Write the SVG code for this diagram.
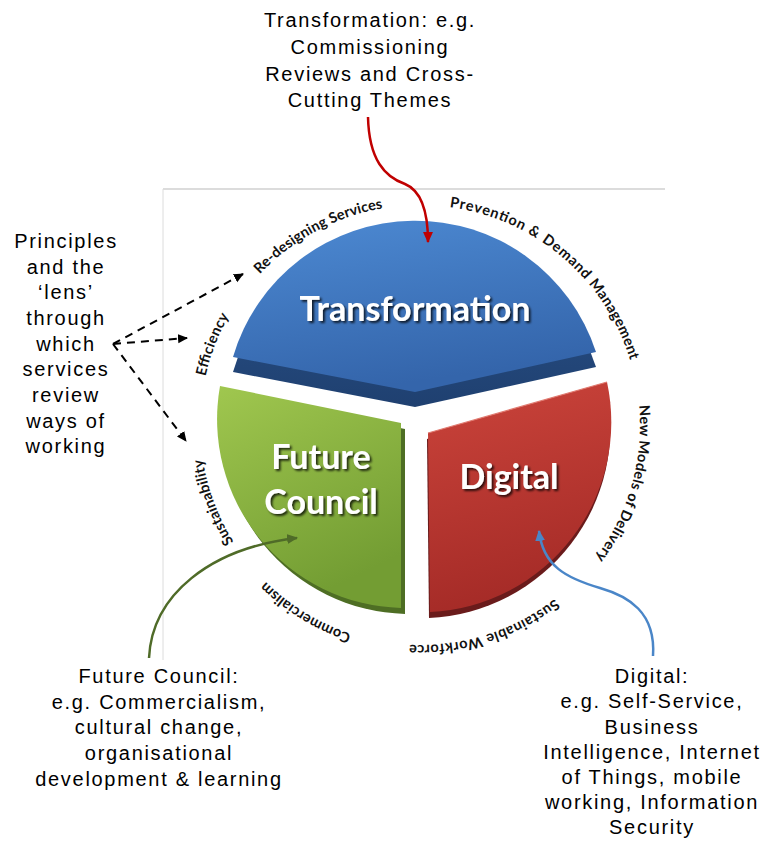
<svg xmlns="http://www.w3.org/2000/svg" width="765" height="843" viewBox="0 0 765 843">
<defs>
<style>
.lbl{font-family:"Liberation Sans",Arial,sans-serif;font-size:20px;letter-spacing:1.7px;fill:#000;text-anchor:middle}
.ring{font-family:Lato,"Open Sans",sans-serif;font-weight:bold;font-size:14.5px;fill:#111}
.seg{font-family:Lato,"Open Sans",sans-serif;font-weight:bold;font-size:34px;fill:#fff;text-anchor:middle;filter:url(#tshadow)}
.dash{fill:none;stroke:#000;stroke-width:2;stroke-dasharray:8 6;marker-end:url(#ahBlack)}
.curve{fill:none;stroke-width:2.5}
.frame{stroke:#dcdcdc;fill:none}
</style>
<linearGradient id="gBlue" x1="0" y1="0" x2="0.3" y2="1">
<stop offset="0" stop-color="#4d8ad3"/>
<stop offset="1" stop-color="#3465ab"/>
</linearGradient>
<linearGradient id="gBlueSide" x1="0" y1="0" x2="0" y2="1">
<stop offset="0" stop-color="#2c568f"/>
<stop offset="1" stop-color="#1f4070"/>
</linearGradient>
<linearGradient id="gGreen" x1="0" y1="0" x2="0.4" y2="1">
<stop offset="0" stop-color="#a0c74f"/>
<stop offset="1" stop-color="#739d33"/>
</linearGradient>
<linearGradient id="gRed" x1="0" y1="0" x2="0.2" y2="1">
<stop offset="0" stop-color="#cb443b"/>
<stop offset="1" stop-color="#a52b27"/>
</linearGradient>
<filter id="tshadow" x="-10%" y="-30%" width="130%" height="170%">
<feGaussianBlur in="SourceAlpha" stdDeviation="1.3"/>
<feOffset dx="2" dy="2" result="b"/>
<feFlood flood-color="#000" flood-opacity="0.75"/>
<feComposite in2="b" operator="in"/>
<feMerge><feMergeNode/><feMergeNode in="SourceGraphic"/></feMerge>
</filter>
<marker id="ahBlack" viewBox="0 0 10 10" refX="9" refY="5" markerWidth="10" markerHeight="10" markerUnits="userSpaceOnUse" orient="auto"><path d="M0,0.5 L10,5 L0,9.5 z" fill="#000"/></marker>
<marker id="ahRed" viewBox="0 0 10 10" refX="9" refY="5" markerWidth="11" markerHeight="11" markerUnits="userSpaceOnUse" orient="auto"><path d="M0,0.5 L10,5 L0,9.5 z" fill="#c00000"/></marker>
<marker id="ahGreen" viewBox="0 0 10 10" refX="9" refY="5" markerWidth="11" markerHeight="11" markerUnits="userSpaceOnUse" orient="auto"><path d="M0,0.5 L10,5 L0,9.5 z" fill="#4f6b28"/></marker>
<marker id="ahBlue" viewBox="0 0 10 10" refX="9" refY="5" markerWidth="11" markerHeight="11" markerUnits="userSpaceOnUse" orient="auto"><path d="M0,0.5 L10,5 L0,9.5 z" fill="#4a86c8"/></marker>
<path id="ringPath" d="M200,425 A220,220 0 0 1 640,425 A220,220 0 0 1 200,425"/>
</defs>
<rect width="765" height="843" fill="#fff"/>
<g id="frame">
<line class="frame" x1="163" y1="189" x2="665" y2="189" stroke-width="2"/>
<line class="frame" x1="163" y1="189" x2="163" y2="660" stroke-width="1"/>
</g>
<g id="node-transformation">
<path d="M233,357 A190,190 0 0 1 596,352 L415,392 Z" transform="translate(0,15)" fill="url(#gBlueSide)"/>
<path d="M233,357 A190,190 0 0 1 596,352 L415,392 Z" fill="url(#gBlue)"/>
<text class="seg" x="415" y="321" font-size="35">Transformation</text>
</g>
<g id="node-future-council">
<path d="M220,386 L401,423 L401,608 A189,189 0 0 1 220,386 Z" transform="translate(4,6)" fill="#4e6e24"/>
<path d="M220,386 L401,423 L401,608 A189,189 0 0 1 220,386 Z" fill="url(#gGreen)"/>
<text class="seg" x="321" y="469">Future</text>
<text class="seg" x="321" y="514">Council</text>
</g>
<g id="node-digital">
<path d="M428,433 L607,382 A190,190 0 0 1 430,612 Z" transform="translate(-1,6)" fill="#6a1b1b"/>
<path d="M428,433 L607,382 A190,190 0 0 1 430,612 Z" fill="url(#gRed)"/>
<path d="M428,433 L607,382" stroke="#e07a70" stroke-width="1.2" fill="none"/>
<text class="seg" x="509" y="489">Digital</text>
</g>
<g id="ring-labels" class="ring">
<text><textPath href="#ringPath" startOffset="49" textLength="65" lengthAdjust="spacing">Efficiency</textPath></text>
<text><textPath href="#ringPath" startOffset="166" textLength="142" lengthAdjust="spacing">Re-designing Services</textPath></text>
<text><textPath href="#ringPath" startOffset="375" textLength="93" lengthAdjust="spacing">Prevention &amp;</textPath></text>
<text><textPath href="#ringPath" startOffset="474" textLength="58" lengthAdjust="spacing">Demand</textPath></text>
<text><textPath href="#ringPath" startOffset="537" textLength="88" lengthAdjust="spacing">Management</textPath></text>
<text><textPath href="#ringPath" startOffset="671" textLength="162" lengthAdjust="spacing">New Models of Delivery</textPath></text>
<text><textPath href="#ringPath" startOffset="891" textLength="156" lengthAdjust="spacing">Sustainable Workforce</textPath></text>
<text><textPath href="#ringPath" startOffset="1106" textLength="101" lengthAdjust="spacing">Commercialism</textPath></text>
<text><textPath href="#ringPath" startOffset="1258" textLength="89" lengthAdjust="spacing">Sustainability</textPath></text>
</g>
<g id="connectors">
<path class="dash" d="M113,344 L243,274"/>
<path class="dash" d="M113,344 L187,338"/>
<path class="dash" d="M113,344 L186,441"/>
<path class="curve" stroke="#c00000" marker-end="url(#ahRed)" d="M368,117 C369,160 385,177 405,184 C422,191 428,215 428,242"/>
<path class="curve" stroke="#4f6b28" marker-end="url(#ahGreen)" d="M149,658 C152,595 210,548 297,538"/>
<path class="curve" stroke="#4a86c8" marker-end="url(#ahBlue)" d="M653,656 C656,612 628,596 600,588 C566,578 543,566 539,531"/>
</g>
<g id="label-transformation">
<text class="lbl"><tspan x="370" y="27">Transformation: e.g.</tspan><tspan x="370" y="54">Commissioning</tspan><tspan x="370" y="80.5">Reviews and Cross-</tspan><tspan x="370" y="107">Cutting Themes</tspan></text>
</g>
<g id="label-principles">
<text class="lbl"><tspan x="66" y="248">Principles</tspan><tspan x="66" y="273.5">and the</tspan><tspan x="66" y="299">‘lens’</tspan><tspan x="66" y="325">through</tspan><tspan x="66" y="350.5">which</tspan><tspan x="66" y="376">services</tspan><tspan x="66" y="402">review</tspan><tspan x="66" y="427.5">ways of</tspan><tspan x="66" y="453">working</tspan></text>
</g>
<g id="label-future-council">
<text class="lbl"><tspan x="159" y="683">Future Council:</tspan><tspan x="159" y="708.5">e.g. Commercialism,</tspan><tspan x="159" y="734">cultural change,</tspan><tspan x="159" y="760">organisational</tspan><tspan x="159" y="785.5">development &amp; learning</tspan></text>
</g>
<g id="label-digital">
<text class="lbl"><tspan x="652" y="683">Digital:</tspan><tspan x="652" y="708">e.g. Self-Service,</tspan><tspan x="652" y="733.5">Business</tspan><tspan x="652" y="758.5">Intelligence, Internet</tspan><tspan x="652" y="784">of Things, mobile</tspan><tspan x="652" y="809">working, Information</tspan><tspan x="652" y="834">Security</tspan></text>
</g>
</svg>
